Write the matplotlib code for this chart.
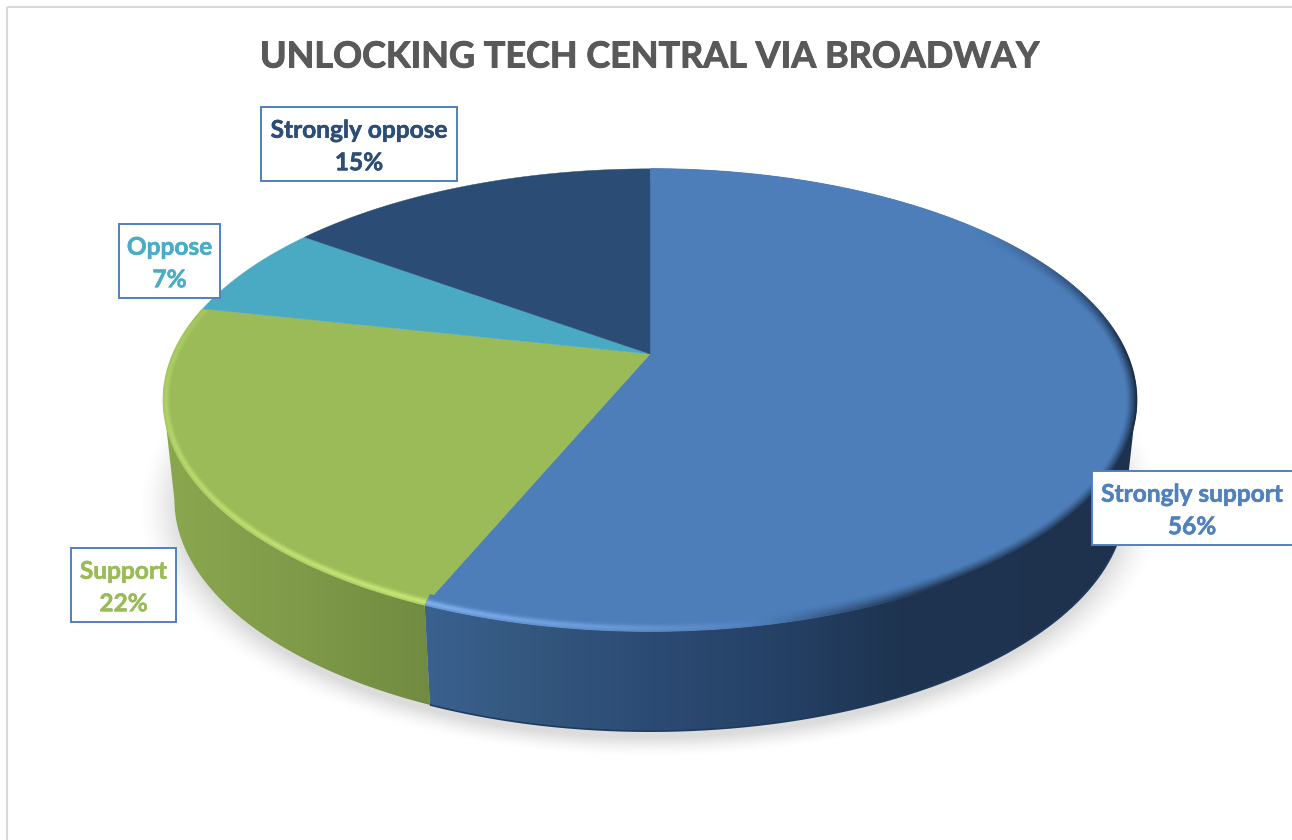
import numpy as np
import matplotlib
matplotlib.use("Agg")
import matplotlib.pyplot as plt
import matplotlib.patheffects as pe
from matplotlib.patches import Polygon, Rectangle
from matplotlib.collections import LineCollection
from matplotlib.colors import to_rgb, LinearSegmentedColormap

plt.rcParams['font.family'] = ['Lato', 'DejaVu Sans']

TITLE = "UNLOCKING TECH CENTRAL VIA BROADWAY"
categories = ["Strongly support", "Support", "Oppose", "Strongly oppose"]
values = [56.3, 22.1, 6.6, 15.0]
face_colors = ["#4D7EBA", "#9BBB59", "#4AA9C3", "#2B4C74"]
label_colors = ["#4F81BD", "#9BBB59", "#4BACC6", "#2C4D75"]

W, H = 1292, 840
fig = plt.figure(figsize=(W / 100, H / 100), dpi=100, facecolor="white")
ax = fig.add_axes([0, 0, 1, 1])
ax.set_xlim(0, W)
ax.set_ylim(H, 0)
ax.axis("off")

# perspective projection of the pie disc onto the page
CX, CY = 650.0, 354.0
RX, RY, K = 477.0, 222.0, 0.199
DEPTH, NARROW = 100.0, 0.977
ELL_Y = 400.0
SIDE_T = 101.5


def top(theta):
    t = np.radians(theta)
    w = 1 + K * np.cos(t)
    return CX + RX * np.sin(t) / w, CY - RY * np.cos(t) / w


def bottom(theta):
    x, y = top(theta)
    return CX + (x - CX) * NARROW, y + DEPTH


def rimcurve(theta, k):
    x, y = top(theta)
    return CX + (x - CX) * (1 - 0.021 * k), ELL_Y + (y - ELL_Y) * (1 - 0.05 * k)


# boundaries derived from the values
edges = np.concatenate([[0], np.cumsum(values)]) / np.sum(values) * 360.0

# soft shadow under the pie
xx, yy = np.meshgrid(np.arange(100, 1200), np.arange(380, 790))
dist = (np.sqrt(((xx - CX) / 472.0) ** 2 + ((yy - 506.0) / 231.0) ** 2) - 1) * 300
a = np.clip(1 - dist / 27.0, 0, 1) ** 1.6 * 0.14
rgba = np.zeros(xx.shape + (4,))
rgba[..., 3] = a
ax.imshow(rgba, extent=(100, 1200, 790, 380), aspect="auto", zorder=1, interpolation="bilinear")
ax.set_xlim(0, W)
ax.set_ylim(H, 0)

# side wall gradients
wall_stops = {
    0: [(425, "#3A6190"), (520, "#34587F"), (650, "#2C4B74"), (800, "#243F63"),
        (900, "#1E3450"), (1140, "#1E324E")],
    1: [(160, "#8BA84F"), (300, "#7F9A49"), (440, "#708A40")],
}
for i, (lo, hi) in reversed(list(enumerate([(edges[0], edges[1]), (edges[1], edges[2])]))):
    t0 = max(lo, SIDE_T) if i == 0 else lo
    t1 = hi if i == 0 else min(hi, 360 - SIDE_T)
    th = np.linspace(t0, t1, 300)
    tx, ty = top(th)
    bx, by = bottom(th)
    pts = np.column_stack([np.r_[tx, bx[::-1]], np.r_[ty, by[::-1]]])
    stops = wall_stops[i]
    xmin, xmax = stops[0][0], stops[-1][0]
    cmap = LinearSegmentedColormap.from_list(
        "w%d" % i, [((x - xmin) / (xmax - xmin), c) for x, c in stops])
    grad = np.linspace(0, 1, 512).reshape(1, -1)
    poly = Polygon(pts, closed=True, facecolor="none", edgecolor="none", zorder=2)
    ax.add_patch(poly)
    im = ax.imshow(grad, cmap=cmap, extent=(xmin, xmax, 760, 380), aspect="auto", zorder=2)
    im.set_clip_path(poly)
    # darker lower edge on the blue wall only
    if i == 0:
        ax.plot(bx, by, color="#1F3A5F", lw=1.2, zorder=3, solid_capstyle="butt")
ax.set_xlim(0, W)
ax.set_ylim(H, 0)

# top face
for i in range(len(values)):
    th = np.linspace(edges[i], edges[i + 1], 300)
    x, y = top(th)
    pts = np.column_stack([np.r_[CX, x], np.r_[CY, y]])
    ax.add_patch(Polygon(pts, closed=True, facecolor=face_colors[i],
                         edgecolor=face_colors[i], lw=0.3, zorder=4))


def rim_strength(px):
    """+1 = highlight, -1 = shade, as a function of page x on the blue slice."""
    return np.interp(px, [425, 620, 740, 830, 950], [1.0, 0.55, 0.15, -0.45, -1.0])


levels = np.linspace(1, 0, 26)
for i in (0, 1):
    lo, hi = edges[i], edges[i + 1]
    th = np.linspace(lo + 0.05, hi - 0.05, 500)
    base = np.array(to_rgb(face_colors[i]))
    light = np.array(to_rgb("#7FB0EE" if i == 0 else "#C6E676"))
    shade = np.array(to_rgb("#1C2F4A"))
    for k in levels:
        x, y = rimcurve(th, k)
        seg = np.stack([np.column_stack([x[:-1], y[:-1]]), np.column_stack([x[1:], y[1:]])], axis=1)
        tm = 0.5 * (th[:-1] + th[1:])
        mx = 0.5 * (x[:-1] + x[1:])
        cols = np.zeros((len(seg), 4))
        prof_l = np.exp(-((k - 0.22) / 0.3) ** 2)
        if i == 0:
            s = rim_strength(mx)
            fade = np.clip((tm - 50) / 40.0, 0, 1)
            prof_d = np.clip(1 - k, 0, 1) ** 1.3
            al = np.where(s > 0, s * prof_l, -s * prof_d) * fade
            tgt = np.where((s > 0)[:, None], light, shade)
        else:
            s = np.interp(tm, [lo, 240, 275, 300], [1.0, 0.75, 0.35, 0.0])
            al = s * prof_l
            tgt = np.tile(light, (len(seg), 1))
        cols[:, :3] = base * (1 - al[:, None]) + tgt * al[:, None]
        cols[:, 3] = 1
        lc = LineCollection(seg, colors=cols, linewidths=0.9, zorder=5, capstyle="butt")
        ax.add_collection(lc)

# figure frame
ax.plot([7, 7], [H, 7], color="#D9D9D9", lw=1.5, zorder=6, solid_capstyle="butt")
ax.plot([7, W], [7, 7], color="#D9D9D9", lw=1.5, zorder=6, solid_capstyle="butt")
ax.plot([1291.5, 1291.5], [7, H], color="#E6E6E6", lw=0.8, zorder=6)

# title
ax.text(650, 57, TITLE, ha="center", va="center", fontsize=25.9, fontweight="bold",
        color="#595959", zorder=8,
        path_effects=[pe.withStroke(linewidth=0.7, foreground="#595959")])

# data labels
boxes = [(1092, 471, 1293, 545), (71, 548, 176, 622), (119, 224, 220, 298), (261, 107, 457, 181)]
for name, v, c, (x0, y0, x1, y1) in zip(categories, values, label_colors, boxes):
    ax.add_patch(Rectangle((x0, y0), x1 - x0, y1 - y0, facecolor="white", edgecolor="#4F81BD",
                           lw=1.4, zorder=9, clip_on=False))
    ax.text(0.5 * (x0 + min(x1, 1292)), 0.5 * (y0 + y1) + 2.5, f"{name}\n{v:.0f}%", ha="center",
            va="center", fontsize=17.6, fontweight="bold", color=c, linespacing=1.5, zorder=10,
            path_effects=[pe.withStroke(linewidth=0.4, foreground=c)])

fig.savefig("out.png", dpi=100, facecolor="white")
